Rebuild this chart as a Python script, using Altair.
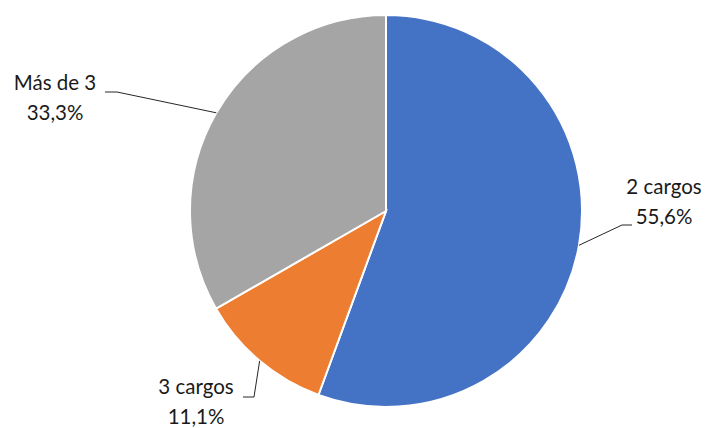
import math
import altair as alt
import pandas as pd

# ---- data ----
categories = ["2 cargos", "3 cargos", "Más de 3"]
shares = [55.6, 11.1, 33.3]
colors = ["#4472C4", "#ED7D31", "#A5A5A5"]

# ---- layout (pixels) ----
W, H = 693, 420
CX, CY, R = 378, 203, 196
layout = {
    "2 cargos": dict(elbow=(614, 217), end=(624, 217), text=(656, 180)),
    "3 cargos": dict(elbow=(246, 389), end=(235, 389), text=(188, 380)),
    "Más de 3": dict(elbow=(109, 84), end=(97, 84), text=(47, 76)),
}

total = sum(shares)
pie = pd.DataFrame({"cat": categories, "share": shares, "idx": range(len(categories))})

line_rows, text_rows = [], []
cum = 0.0
for cat, s in zip(categories, shares):
    mid = math.radians((cum + s / 2) / total * 360)
    cum += s
    ex, ey = CX + R * math.sin(mid), CY - R * math.cos(mid)
    lay = layout[cat]
    for i, (px, py) in enumerate([(ex, ey), lay["elbow"], lay["end"]]):
        line_rows.append({"cat": cat, "step": i, "x": px, "y": py})
    label = f"{cat}\n{s:.1f}%".replace(".", ",")
    text_rows.append({"cat": cat, "label": label, "x": lay["text"][0], "y": lay["text"][1]})

lines = pd.DataFrame(line_rows)
texts = pd.DataFrame(text_rows)

xs = alt.Scale(domain=[0, W], range=[0, W], nice=False, zero=False)
ys = alt.Scale(domain=[0, H], range=[0, H], nice=False, zero=False)

arcs = alt.Chart(pie).mark_arc(outerRadius=R, stroke="white", strokeWidth=2).encode(
    theta=alt.Theta("share:Q", stack=True),
    color=alt.Color("cat:N", scale=alt.Scale(domain=categories, range=colors), legend=None),
    order=alt.Order("idx:Q"),
    x=alt.value(CX),
    y=alt.value(CY),
)

leaders = alt.Chart(lines).mark_line(color="#262626", strokeWidth=1).encode(
    x=alt.X("x:Q", scale=xs, axis=None),
    y=alt.Y("y:Q", scale=ys, axis=None),
    detail="cat:N",
    order="step:Q",
)

labels = alt.Chart(texts).mark_text(
    font="Lato", fontSize=20.5, lineBreak="\n", lineHeight=30,
    align="center", baseline="middle", color="#1a1a1a",
).encode(
    x=alt.X("x:Q", scale=xs, axis=None),
    y=alt.Y("y:Q", scale=ys, axis=None),
    text="label:N",
)

chart = alt.layer(arcs, leaders, labels).properties(
    width=W, height=H, padding=0, autosize="none"
).configure_view(stroke=None)

chart.save("out.html", embed_options={"renderer": "svg", "actions": False})
